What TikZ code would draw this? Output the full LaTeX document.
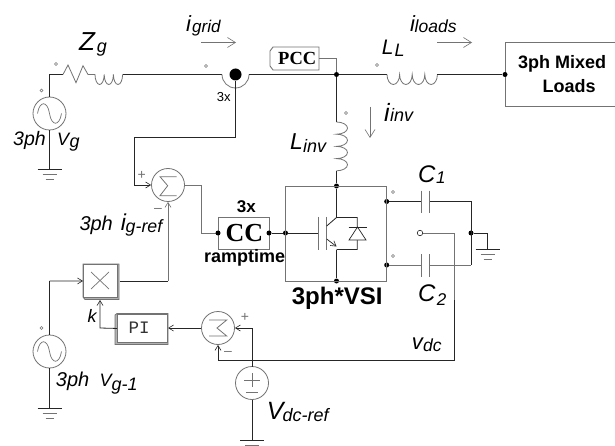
\documentclass[tikz,border=0pt]{standalone}
\usepackage{fontspec}
\setmainfont{Liberation Sans}
\newfontfamily\serifb{Liberation Serif}
\newfontfamily\monof{Liberation Mono}
\usetikzlibrary{arrows.meta}
\definecolor{wire}{gray}{0.15}
\definecolor{gline}{gray}{0.45}
\tikzset{
  x=1pt,y=-1pt,
  wireline/.style={draw=wire,line width=0.8pt},
  grayline/.style={draw=gline,line width=0.9pt},
  inarrow/.style={-{Straight Barb[length=5pt,width=6pt,line width=0.6pt]}},
  flowarrow/.style={draw=gline,line width=0.6pt,-{Straight Barb[length=8pt,width=10pt,line width=0.6pt]}},
  dotnode/.style={circle,fill=black,inner sep=0pt,minimum size=5pt},
  marker/.style={circle,draw=gline,fill=white,line width=0.5pt,inner sep=0pt,minimum size=3pt},
  ring/.style={circle,draw=gline,fill=white,line width=0.8pt,inner sep=0pt,minimum size=33pt},
  txt/.style={inner sep=0pt,anchor=base west},
  blockbox/.style={draw=gline,fill=white,line width=0.9pt,inner sep=0pt},
}
\newcommand{\grnd}[2]{%
  \draw[wire,line width=0.8pt] (#1-12,#2) -- (#1+12,#2);
  \draw[gline,line width=0.8pt] (#1-7,#2+5) -- (#1+7,#2+5);
  \draw[gline,line width=0.8pt] (#1-4,#2+10) -- (#1+4,#2+10);}
\newcommand{\sinew}[2]{%
  \draw[gline,line width=0.7pt] (#1-12,#2) .. controls (#1-10,#2-13) and (#1-2,#2-13) .. (#1,#2) .. controls (#1+2,#2+13) and (#1+10,#2+13) .. (#1+12,#2);}
% x, y, size, text
\newcommand{\itxt}[4]{\node[txt,font=\itshape\fontsize{#3}{#3}\selectfont] at (#1,#2) {#4};}
\newcommand{\btxt}[4]{\node[txt,font=\bfseries\fontsize{#3}{#3}\selectfont] at (#1,#2) {#4};}
\begin{document}
\begin{tikzpicture}
\useasboundingbox (0,0) rectangle (615,446);
\fill[white] (0,0) rectangle (615,446);

\node[ring] (vg) at (49.5,113.5) {};
\node[ring] (vg1) at (49.5,351.5) {};
\node[ring] (vdcs) at (252,383) {};
\node[ring] (sum1) at (168,185) {};
\node[ring] (sum2) at (218,328) {};
\node[dotnode,minimum size=12pt] (sensor) at (235.5,74.5) {};
\node[dotnode] (pcc) at (336.5,74.5) {};
\node[blockbox,minimum width=110pt,minimum height=64pt] (load) at (560,74) {};
\node[dotnode] (loadin) at (505,74.5) {};
\node[dotnode] (vsitop) at (336.5,186) {};
\node[dotnode] (vsibot) at (336.5,281) {};
\node[dotnode] (vsil) at (285.5,233) {};
\node[dotnode] (vsir1) at (386.7,201.5) {};
\node[dotnode] (vsir2) at (386.7,265) {};
\node[dotnode] (cmid) at (471,233) {};
\node[circle,draw=wire,fill=white,line width=0.6pt,inner sep=0pt,minimum size=5.5pt] (vdcp) at (420,233) {};

\sinew{49.5}{113.5}
\sinew{49.5}{351.5}

% source, Zg
\draw[wireline] (vg.north) -- (49.5,74.5) -- (63,74.5);
\draw[gline,line width=0.8pt] (63,74.5) -- (68,65) -- (76,82.7) -- (83,65.7) -- (88,74.5) -- (95,74.5);
\draw[gline,line width=0.8pt] (95,74.5) arc[start angle=180,end angle=0,x radius=4.6,y radius=10] arc[start angle=180,end angle=0,x radius=4.6,y radius=10] arc[start angle=180,end angle=0,x radius=4.6,y radius=10];
\draw[wireline] (122.6,74.5) -- (222,74.5);
\draw[gline,line width=0.8pt] (222,74.5) arc[start angle=180,end angle=0,radius=13.5];
\draw[wireline] (249,74.5) -- (pcc) -- (387,74.5);
% L_L
\draw[gline,line width=0.8pt] (387,74.5) arc[start angle=180,end angle=0,x radius=6.3,y radius=10] arc[start angle=180,end angle=0,x radius=6.3,y radius=10] arc[start angle=180,end angle=0,x radius=6.3,y radius=10] arc[start angle=180,end angle=0,x radius=6.3,y radius=10];
\draw[wireline] (437.4,74.5) -- (loadin);
\btxt{518}{69}{18}{3ph Mixed}
\btxt{542.5}{93}{18}{Loads}
% PCC
\draw[grayline,fill=white] (273,47) -- (319,47) -- (319,70) -- (273,70) -- (270,66) -- (270,51) -- cycle;
\node[txt,font=\serifb\bfseries\fontsize{18.5}{18.5}\selectfont] (pcct) at (278,65) {PCC};
\draw[grayline] (319,58.5) -- (336.5,58.5) -- (pcc);

% L_inv
\draw[wireline] (pcc) -- (336.5,122);
\draw[gline,line width=0.8pt] (336.5,122) arc[start angle=-90,end angle=90,x radius=11,y radius=6.1] arc[start angle=-90,end angle=90,x radius=11,y radius=6.1] arc[start angle=-90,end angle=90,x radius=11,y radius=6.1] arc[start angle=-90,end angle=90,x radius=11,y radius=6.1];
\draw[wireline] (336.5,170.8) -- (vsitop);

% VSI
\draw[grayline] (285.5,186) rectangle (386.7,281);
\draw[wireline] (vsitop) -- (336.5,217.5);
\draw[wireline] (336.5,249.5) -- (vsibot);
\draw[wireline] (vsil) -- (318.7,233);
\draw[gline,line width=0.9pt] (318.7,217) -- (318.7,250);
\draw[gline,line width=0.9pt] (326.7,217) -- (326.7,250);
\draw[wireline] (326.7,226) -- (336.5,217.5) -- (357.3,217.5) -- (357.3,249.5) -- (336.5,249.5);
\draw[wire,line width=0.7pt,-{Straight Barb[length=5pt,width=6pt,line width=0.6pt]}] (326.7,239) -- (336.5,246.5);
\draw[draw=wire,line width=0.7pt,fill=white] (357.5,227) -- (366,240) -- (349,240) -- cycle;
\draw[wire,line width=0.8pt] (348.5,227) -- (366.5,227);

% caps
\draw[wireline] (vsir1) -- (421.7,201.5);
\draw[wireline] (429.5,201.5) -- (471,201.5);
\draw[grayline] (421.7,190.7) -- (421.7,213);
\draw[grayline] (429.5,190.7) -- (429.5,213);
\draw[grayline] (vsir2) -- (421.7,265);
\draw[grayline] (429.5,265) -- (471,265);
\draw[grayline] (421.7,254) -- (421.7,276.7);
\draw[grayline] (429.5,254) -- (429.5,276.7);
\draw[wireline] (471,201.5) -- (471,265);
\draw[wireline] (cmid) -- (487.7,233) -- (487.7,249.5);
\grnd{487.7}{249.5}

% vdc feedback
\draw[grayline] (vdcp) -- (454,233) -- (454,300);
\draw[wireline] (454,300) -- (454,360) -- (218,360);
\draw[wireline,inarrow] (218,360) -- (sum2.south);
\draw[wireline,inarrow] (252,366.5) -- (252,328) -- (sum2.east);
\draw[wireline] (vdcs.south) -- (252,440);
\grnd{252}{440}
\draw[gline,line width=0.8pt] (244,380) -- (260,380);
\draw[gline,line width=0.8pt] (252,373) -- (252,387);
\draw[gline,line width=0.8pt] (246,392) -- (258,392);

% sum symbols
\draw[gline,line width=0.8pt] (176.7,176.7) -- (160,176.7) -- (167.7,185.7) -- (160,195.7) -- (176.7,195.7);
\draw[gline,line width=0.8pt] (209,320) -- (226.7,320) -- (217,328) -- (226.7,336) -- (209,336);

% PI + multiplier
\draw[wireline,inarrow] (sum2.west) -- (168,328);
\draw[draw=gline,line width=0.8pt,fill=gray!60] (115,315) -- (117,313.5) -- (168,313.5) -- (168,344.5) -- (115,344.5) -- cycle;
\node[blockbox,minimum width=50pt,minimum height=28pt,anchor=north east] (pi) at (168,314) {};
\node[txt,font=\monof\fontsize{17.5}{17.5}\selectfont,text=black!80] at (128.3,333) {PI};
\draw[wireline,inarrow] (pi.west) -- (100,328) -- (100,300);
\draw[draw=gline,line width=0.8pt,fill=gray!60] (83,264) -- (119,264) -- (119,299.5) -- (85,299.5) -- (83,297) -- cycle;
\node[blockbox,minimum width=34pt,minimum height=33pt,anchor=north west] (mult) at (83,264) {};
\draw[gline,line width=0.7pt] (91,272) -- (109,289);
\draw[gline,line width=0.7pt] (109,272) -- (91,289);
\draw[wireline] (119.5,281) -- (168,281);
\draw[grayline,inarrow] (168,281) -- (sum1.south);
\draw[wireline,inarrow] (49.5,281) -- (mult.west);
\draw[wireline] (vg1.north) -- (49.5,281);
\draw[wireline] (vg1.south) -- (49.5,408);
\grnd{49.5}{408}
\draw[wireline] (vg.south) -- (49.5,169.5);
\grnd{49.5}{169.5}

% sensor to sum
\draw[wireline] (sensor) -- (235.5,137.5) -- (134,137.5) -- (134,185);
\draw[wireline,inarrow] (134,185) -- (sum1.west);
\draw[grayline] (sum1.east) -- (201.7,185) -- (201.7,233) -- (218,233);

% CC
\draw[grayline] (218,217) rectangle (269,249.5);
\node[dotnode] (ccl) at (218,233) {};
\node[dotnode] (ccr) at (269,233) {};
\draw[wireline] (ccr) -- (vsil);
\node[txt,font=\serifb\bfseries\fontsize{26}{26}\selectfont] (cct) at (225.5,241.7) {CC};
\btxt{236.7}{213}{17}{3x}
\btxt{204}{262.7}{18}{ramptime}
\btxt{291.7}{304}{24}{3ph*VSI}
\node[txt,font=\fontsize{13}{13}\selectfont] at (216.7,101.7) {3x};

% small terminals
\foreach \n/\p in {m1/{56,64},m2/{41.5,90.5},m3/{206,66},m4/{377,65},m5/{346,113},m6/{393,192},m7/{393,256},m8/{41.5,328}}
  \node[marker] (\n) at (\p) {};

% flow arrows
\coordinate (ga) at (201,42.5); \coordinate (gb) at (236,42.5);
\draw[flowarrow] (ga) -- (gb);
\coordinate (la) at (437,42.5); \coordinate (lb) at (472,42.5);
\draw[flowarrow] (la) -- (lb);
\coordinate (ia) at (370,107); \coordinate (ib) at (370,138);
\draw[flowarrow] (ia) -- (ib);

% labels
\itxt{79}{50.7}{26}{Z}\itxt{96.7}{53}{18}{g}
\itxt{186}{31.7}{22}{i}\itxt{192}{33}{17}{grid}
\itxt{410}{31.7}{22}{i}\itxt{414.5}{33}{17.5}{loads}
\itxt{381.7}{55}{21}{L}\itxt{394.5}{57}{18}{L}
\itxt{384}{121.7}{25}{i}\itxt{390}{121.7}{18}{inv}
\itxt{290}{150}{23}{L}\itxt{303}{153}{18}{inv}
\itxt{418}{183}{24}{C}\itxt{436}{184}{17}{1}
\itxt{418}{301}{24}{C}\itxt{436.7}{305}{17}{2}
\itxt{411.7}{349}{22}{v}\itxt{423}{351.7}{17.5}{dc}
\itxt{266.7}{419}{25}{V}\itxt{282.5}{421.7}{18}{dc-ref}
\itxt{13}{145.7}{19.5}{3ph}\itxt{57}{145.7}{18}{V}\itxt{69.5}{148}{18}{g}
\itxt{79.3}{231}{20}{3ph}\itxt{120.7}{231}{23}{i}\itxt{125.5}{233}{17.8}{g-ref}
\itxt{55.7}{386}{20}{3ph}\itxt{99.3}{386}{18}{V}\itxt{111.5}{390}{18}{g-1}
\itxt{87.3}{322.7}{18}{k}
\node[inner sep=0pt,text=gline,font=\fontsize{14}{14}\selectfont] at (141.7,175) {+};
\node[inner sep=0pt,text=gline,font=\fontsize{14}{14}\selectfont] at (158,210) {–};
\node[inner sep=0pt,text=gline,font=\fontsize{14}{14}\selectfont] at (245,317) {+};
\node[inner sep=0pt,text=gline,font=\fontsize{14}{14}\selectfont] at (228,353.5) {–};
\end{tikzpicture}
\end{document}
